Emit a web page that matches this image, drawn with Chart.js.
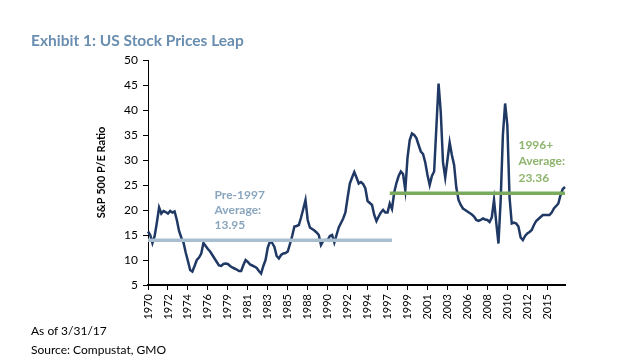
<!DOCTYPE html>
<html><head><meta charset="utf-8">
<script src="https://cdn.jsdelivr.net/npm/chart.js@4.4.1/dist/chart.umd.min.js"></script>
<style>
html,body{margin:0;padding:0;background:#fff;}
#wrap{position:relative;width:629px;height:364px;overflow:hidden;background:#fff;}
#title{position:absolute;left:31px;top:31px;font:bold 15.5px Lato, sans-serif;color:#6a8eb0;white-space:nowrap;}
.note{position:absolute;left:31px;font:12px Lato, sans-serif;color:#000;white-space:nowrap;}
canvas{position:absolute;left:0;top:0;}
</style></head><body>
<div id="wrap">
<canvas id="c" width="629" height="364"></canvas>
<div id="title">Exhibit 1: US Stock Prices Leap</div>
<div class="note" style="top:323px">As of 3/31/17</div>
<div class="note" style="top:342px">Source: Compustat, GMO</div>
</div>
<script>
// Quarterly S&P 500 P/E, 1970Q1 .. 2017Q1
const startYear = 1970;
const peValues = [
 15.7,15.0,13.4,14.8, 17.5,20.5,19.3,19.8, 19.6,19.3,19.8,19.5, 19.7,18.0,15.8,14.5,
 13.5,11.5,9.8,8.0,   7.7,8.8,10.0,10.5,   11.3,13.4,12.8,12.2, 11.7,11.0,10.3,9.6,
 8.9,8.8,9.2,9.3,     9.2,8.8,8.5,8.3,     8.1,7.8,7.8,9.0,     10.0,9.6,9.1,8.9,
 8.7,8.4,7.8,7.3,     8.8,10.0,12.5,13.7,  13.4,12.6,10.8,10.3, 11.0,11.3,11.4,11.7,
 13.2,14.8,16.7,16.8, 17.0,18.5,20.2,22.0, 18.0,16.5,16.2,15.9, 15.5,15.0,13.0,13.8,
 14.0,14.0,14.8,15.0, 13.5,15.0,16.5,17.4, 18.3,19.5,22.5,25.3, 26.5,27.6,26.5,25.3,
 25.6,25.2,24.3,21.8, 21.4,21.0,19.0,17.8, 18.7,19.5,20.0,19.5, 19.5,21.3,20.2,23.5,
 25.4,26.8,27.7,27.2, 24.0,30.5,34.0,35.3, 35.0,34.4,33.0,31.7, 31.2,29.5,27.0,25.0,
 26.8,27.7,36.5,45.3, 39.5,29.5,26.5,30.0, 33.5,31.0,29.0,24.5, 22.0,21.0,20.3,20.0,
 19.7,19.4,19.1,18.7, 18.0,17.8,18.0,18.3, 18.1,18.0,17.6,18.5, 22.0,17.5,13.3,22.0,
 35.0,41.3,37.0,22.5, 17.3,17.5,17.3,16.7, 14.5,14.0,14.8,15.3, 15.6,16.0,17.0,17.8,
 18.2,18.6,19.0,19.0, 19.0,19.0,19.5,20.3, 20.8,21.3,23.0,24.2,
 24.6
];
const categories = peValues.map((v, i) => (startYear + Math.floor(i / 4)) + 'Q' + (i % 4 + 1));
const labelEvery = 9; // one year label every 9 quarters
const yTicks = [5, 10, 15, 20, 25, 30, 35, 40, 45, 50];

const pre1997Avg = 13.95;
const post1996Avg = 23.36;
const pre1997Range = ['1970Q1', '1997Q3'];
const post1996Range = ['1997Q2', '2017Q1'];

function avgLine(val, range) {
  const a = categories.indexOf(range[0]), b = categories.indexOf(range[1]);
  return categories.map((c, i) => (i >= a && i <= b) ? val : null);
}

const annot = {
  id: 'annot',
  afterDatasetsDraw(chart) {
    const {ctx, scales: {x, y}} = chart;
    ctx.save();
    ctx.font = 'bold 12px Lato, sans-serif';
    ctx.textBaseline = 'middle';
    ctx.textAlign = 'left';
    ctx.fillStyle = '#8aa6bf';
    const px1 = x.getPixelForValue(30);
    ['Pre-1997', 'Average:', pre1997Avg.toFixed(2)].forEach((t, k) => {
      ctx.fillText(t, px1, y.getPixelForValue(23 - k * 3));
    });
    ctx.fillStyle = '#8db46c';
    const px2 = x.getPixelForValue(167);
    ['1996+', 'Average:', post1996Avg.toFixed(2)].forEach((t, k) => {
      ctx.fillText(t, px2, y.getPixelForValue(33 - k * 3.3));
    });
    // y axis title
    ctx.translate(101, (y.top + y.bottom) / 2);
    ctx.rotate(-Math.PI / 2);
    ctx.textAlign = 'center';
    ctx.fillStyle = '#000';
    ctx.font = 'bold 11px Lato, sans-serif';
    ctx.fillText('S&P 500 P/E Ratio', 0, 0);
    ctx.restore();
  }
};

new Chart(document.getElementById('c'), {
  type: 'line',
  data: {
    labels: categories,
    datasets: [
      {data: avgLine(pre1997Avg, pre1997Range), borderColor: '#a9bfd0', borderWidth: 3.5, pointRadius: 0, spanGaps: false},
      {data: avgLine(post1996Avg, post1996Range), borderColor: '#79aa5e', borderWidth: 3.5, pointRadius: 0, spanGaps: false},
      {data: peValues, borderColor: '#1f3864', borderWidth: 2.5, pointRadius: 0, tension: 0}
    ]
  },
  options: {
    responsive: false,
    animation: false,
    devicePixelRatio: 1,
    layout: {padding: {left: 0, right: 64, top: 60, bottom: 0}},
    plugins: {legend: {display: false}, tooltip: {enabled: false}},
    scales: {
      x: {
        type: 'category',
        offset: false,
        grid: {drawOnChartArea: false, drawTicks: true, tickLength: 5,
               tickColor: c => (c.index % labelEvery === 0 ? '#000' : 'rgba(0,0,0,0)'), tickWidth: 1},
        border: {display: true, color: '#000', width: 2},
        ticks: {
          autoSkip: false, maxRotation: 90, minRotation: 90, padding: 4,
          color: '#000', font: {family: 'Lato', size: 11},
          callback: (v, i) => (i % labelEvery === 0 ? categories[i].slice(0, 4) : '')
        },
        afterFit: s => { s.height = 79; }
      },
      y: {
        min: yTicks[0], max: yTicks[yTicks.length - 1],
        afterBuildTicks: s => { s.ticks = yTicks.map(v => ({value: v})); },
        grid: {drawOnChartArea: false, drawTicks: true, tickLength: 5, color: '#000'},
        border: {display: true, color: '#000', width: 1},
        ticks: {color: '#000', font: {family: 'Lato', size: 12}, padding: 5},
        afterFit: s => { s.width = 148; }
      }
    }
  },
  plugins: [annot]
});
</script>
</body></html>
